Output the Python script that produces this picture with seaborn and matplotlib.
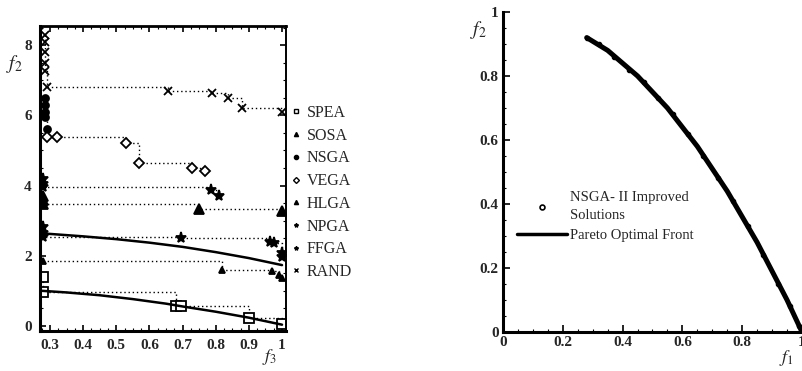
import matplotlib
matplotlib.use("Agg")
import matplotlib.pyplot as plt
import seaborn as sns
from matplotlib.lines import Line2D
from matplotlib.ticker import MultipleLocator

sns.set_style("ticks")
plt.rcParams["font.family"] = ["Liberation Serif", "DejaVu Serif"]
plt.rcParams["mathtext.fontset"] = "stix"

# left panel: non-dominated fronts of the 8 algorithms
spea_x = [0.28, 0.28, 0.68, 0.695, 0.90, 1.00]
spea_y = [1.40, 0.97, 0.57, 0.55, 0.23, 0.04]
sosa_x = [0.28, 0.82, 0.97, 0.99, 1.00]
sosa_y = [1.86, 1.60, 1.55, 1.45, 1.35]
nsga_x = [0.285, 0.285, 0.285, 0.285, 0.29]
nsga_y = [6.50, 6.30, 6.10, 5.95, 5.60]
vega_x = [0.29, 0.32, 0.53, 0.569, 0.729, 0.768]
vega_y = [5.37, 5.37, 5.20, 4.63, 4.51, 4.40]
hlga_x = [0.28, 0.28, 0.28, 0.75, 1.00]
hlga_y = [3.70, 3.58, 3.48, 3.33, 3.27]
npga_x = [0.28, 0.28, 0.28, 0.786, 0.81]
npga_y = [4.20, 4.05, 3.97, 3.88, 3.70]
ffga_x = [0.28, 0.28, 0.28, 0.695, 0.965, 0.975, 1.00, 1.00]
ffga_y = [2.83, 2.65, 2.52, 2.51, 2.40, 2.35, 2.08, 1.95]
rand_x = [0.285, 0.285, 0.285, 0.285, 0.285, 0.29, 0.657, 0.79, 0.838, 0.88, 1.00]
rand_y = [8.30, 8.10, 7.80, 7.50, 7.26, 6.80, 6.69, 6.63, 6.49, 6.20, 6.11]

front_hi_x = [0.27, 0.40, 0.50, 0.60, 0.70, 0.80, 0.90, 1.00]
front_hi_y = [2.64, 2.55, 2.47, 2.37, 2.25, 2.10, 1.93, 1.73]
front_lo_x = [0.27, 0.35, 0.45, 0.55, 0.65, 0.70, 0.80, 0.90, 1.00]
front_lo_y = [1.00, 0.95, 0.87, 0.76, 0.63, 0.55, 0.40, 0.23, 0.03]

# right panel: NSGA-II improved solutions and Pareto optimal front
pareto_f1 = [0.28, 0.35, 0.40, 0.45, 0.50, 0.55, 0.60, 0.65, 0.70, 0.75, 0.80, 0.85, 0.90, 0.95, 1.00]
pareto_f2 = [0.92, 0.88, 0.84, 0.80, 0.75, 0.70, 0.64, 0.58, 0.51, 0.44, 0.36, 0.28, 0.19, 0.10, 0.00]
sol_f1 = [0.28, 0.32, 0.37, 0.42, 0.47, 0.52, 0.57, 0.62, 0.67, 0.72, 0.77, 0.82, 0.87, 0.92, 0.96, 0.99]
sol_f2 = [0.92, 0.90, 0.86, 0.82, 0.78, 0.73, 0.68, 0.62, 0.55, 0.48, 0.41, 0.33, 0.24, 0.15, 0.08, 0.02]

series = [
    ("SPEA", spea_x, spea_y, "s", "white", 7),
    ("SOSA", sosa_x, sosa_y, "^", "black", 5),
    ("NSGA", nsga_x, nsga_y, "o", "black", 5),
    ("VEGA", vega_x, vega_y, "D", "white", 5),
    ("HLGA", hlga_x, hlga_y, "^", "black", 7),
    ("NPGA", npga_x, npga_y, "*", "black", 8),
    ("FFGA", ffga_x, ffga_y, "*", "black", 8),
    ("RAND", rand_x, rand_y, "x", "black", 6),
]

fig = plt.figure(figsize=(8.03, 3.71), dpi=100)
ax1 = fig.add_axes([40 / 803, 1 - 331 / 371, 246 / 803, 305 / 371])
ax2 = fig.add_axes([503 / 803, 1 - 332 / 371, 299 / 803, 320 / 371])

handles = []
for name, xs, ys, mk, fc, ms in series:
    sns.lineplot(x=xs, y=ys, ax=ax1, estimator=None, sort=False, color="black",
                 linestyle=(0, (1, 2)), linewidth=1.0, drawstyle="steps-post",
                 marker=mk, markersize=ms, markerfacecolor=fc,
                 markeredgecolor="black", markeredgewidth=1.3)
    handles.append(Line2D([], [], linestyle="none", marker=mk, markersize=3,
                          markerfacecolor=fc, markeredgecolor="black", color="black"))

sns.lineplot(x=front_hi_x, y=front_hi_y, ax=ax1, estimator=None, sort=False,
             color="black", linewidth=1.8)
sns.lineplot(x=front_lo_x, y=front_lo_y, ax=ax1, estimator=None, sort=False,
             color="black", linewidth=1.8)

ax1.set_xlim(0.27, 1.012)
ax1.set_ylim(-0.15, 8.55)
ax1.set_xticks([0.3, 0.4, 0.5, 0.6, 0.7, 0.8, 0.9, 1.0])
ax1.set_xticklabels(["0.3", "0.4", "0.5", "0.6", "0.7", "0.8", "0.9", "1"])
ax1.set_yticks([0, 2, 4, 6, 8])
ax1.xaxis.set_minor_locator(MultipleLocator(0.025))
ax1.yaxis.set_minor_locator(MultipleLocator(0.5))
ax1.tick_params(which="both", direction="in", top=True, right=True, color="black")
ax1.tick_params(which="major", length=4, width=1.2, labelsize=11, pad=6)
ax1.tick_params(which="minor", length=2, width=0.8)
for lab in ax1.get_xticklabels() + ax1.get_yticklabels():
    lab.set_fontweight("bold")
for side, lw in [("left", 2.2), ("bottom", 2.2), ("top", 2.0), ("right", 1.4)]:
    ax1.spines[side].set_linewidth(lw)
    ax1.spines[side].set_color("black")
ax1.set_xlabel("")
ax1.set_ylabel("")

fig.legend(handles, [s[0] for s in series], loc="upper left",
           bbox_to_anchor=(291 / 803, 1 - 105 / 371), frameon=False,
           prop={"size": 11.5}, handlelength=0.6, handletextpad=0.4,
           labelspacing=0.42, borderpad=0, borderaxespad=0)

fig.text(14 / 803, 1 - 64 / 371, r"$f_2$", fontsize=14, ha="center", va="center")
fig.text(270 / 803, 1 - 357 / 371, r"$f_3$", fontsize=13, ha="center", va="center")

# right panel
sns.lineplot(x=pareto_f1, y=pareto_f2, ax=ax2, estimator=None, sort=False,
             color="black", linewidth=3.6)
sns.scatterplot(x=sol_f1, y=sol_f2, ax=ax2, marker="o", s=9, facecolor="black",
                edgecolor="black", linewidth=1.0, zorder=3)

ax2.set_xlim(0, 1)
ax2.set_ylim(0, 1)
ax2.set_xticks([0, 0.2, 0.4, 0.6, 0.8, 1.0])
ax2.set_xticklabels(["0", "0.2", "0.4", "0.6", "0.8", "1"])
ax2.set_yticks([0, 0.2, 0.4, 0.6, 0.8, 1.0])
ax2.set_yticklabels(["0", "0.2", "0.4", "0.6", "0.8", "1"])
ax2.xaxis.set_minor_locator(MultipleLocator(0.05))
ax2.yaxis.set_minor_locator(MultipleLocator(0.05))
ax2.tick_params(which="both", direction="in", color="black")
ax2.tick_params(which="major", length=5, width=1.2, labelsize=11, pad=3)
ax2.tick_params(which="minor", length=2.5, width=0.8)
for lab in ax2.get_xticklabels() + ax2.get_yticklabels():
    lab.set_fontweight("bold")
sns.despine(ax=ax2)
for side in ["left", "bottom"]:
    ax2.spines[side].set_linewidth(2.2)
    ax2.spines[side].set_color("black")
ax2.set_xlabel("")
ax2.set_ylabel("")

sol_handle = Line2D([], [], linestyle="none", marker="o", markersize=3.5,
                    markerfacecolor="white", markeredgecolor="black", markeredgewidth=1.2)
line_handle = Line2D([], [], color="black", linewidth=2.5)
leg = ax2.legend([sol_handle, line_handle], ["NSGA- II Improved\nSolutions", "Pareto Optimal Front"],
                 loc="upper left", bbox_to_anchor=(0.047, 0.44), frameon=False,
                 prop={"size": 10.5}, handlelength=3.4, handletextpad=0.2,
                 labelspacing=0.45, borderpad=0, borderaxespad=0)
for t in leg.get_texts():
    t.set_linespacing(1.5)

fig.text(478 / 803, 1 - 30 / 371, r"$f_2$", fontsize=14, ha="center", va="center")
fig.text(786 / 803, 1 - 358 / 371, r"$f_1$", fontsize=13, ha="center", va="center")

fig.savefig("out.png", dpi=100)
